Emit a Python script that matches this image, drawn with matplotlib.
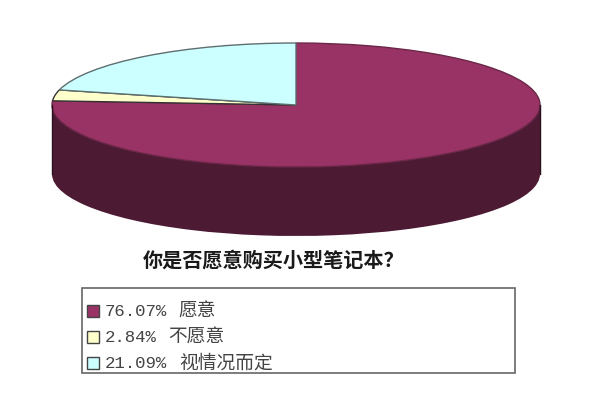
import matplotlib
matplotlib.use("Agg")
import matplotlib.pyplot as plt
from matplotlib.patches import Rectangle

plt.rcParams['font.family'] = ['Noto Sans CJK SC', 'DejaVu Sans']

# Chart data
percents = [76.07, 2.84, 21.09]
percent_labels = ['76.07%', '2.84%', '21.09%']
names = ['愿意', '不愿意', '视情况而定']
colors = ['#993366', '#ffffcc', '#ccffff']
edge_colors = ['#6b2748', '#333333', '#5f6f70']
side_color = '#4d1a33'
title = '你是否愿意购买小型笔记本？'

# Ellipse geometry in pixels
cx, cy = 296, 105
rx, ry = 244, 62
depth = 69 / ry

fig = plt.figure(figsize=(6, 4), dpi=100, facecolor='white')

# Pie axes fill the figure, one data unit is rx wide and ry high
ax = fig.add_axes([0, 0, 1, 1])
ax.pie(percents, colors=[side_color] * 3, startangle=90, counterclock=False,
       center=(0, -depth), wedgeprops={'edgecolor': 'none'})
ax.add_patch(Rectangle((-1, -depth), 2, depth, facecolor=side_color, edgecolor='none'))
ax.plot([-1, -1], [0, -depth], color='#2a0f1c', lw=1)
ax.plot([1, 1], [0, -depth], color='#2a0f1c', lw=1)
top_wedges, _ = ax.pie(percents, colors=colors, startangle=90, counterclock=False,
                       wedgeprops={'linewidth': 1})
# Maroon on top so that the pale slices keep their own edge
for wedge, edge in zip(top_wedges, edge_colors):
    wedge.set_edgecolor(edge)
top_wedges[1].set_zorder(3)
top_wedges[2].set_zorder(3)
ax.set_aspect('auto')
ax.set_xlim(-cx / rx, (600 - cx) / rx)
ax.set_ylim((cy - 400) / ry, cy / ry)
ax.axis('off')

# Overlay in pixel coordinates for title and legend
ov = fig.add_axes([0, 0, 1, 1])
ov.set_xlim(0, 600)
ov.set_ylim(400, 0)
ov.axis('off')
ov.patch.set_alpha(0)

ov.text(143, 260, title, fontsize=14.5, fontweight='bold', color='#1a1a1a',
        va='center', ha='left')

ov.add_patch(Rectangle((82, 288), 433, 85, facecolor='white', edgecolor='#666666', lw=1.2))

row_y = [311, 337, 363]
for i in range(3):
    ov.add_patch(Rectangle((87, row_y[i] - 6), 12, 12, facecolor=colors[i],
                           edgecolor='#444444', lw=1))
    ov.text(105, row_y[i], percent_labels[i], family='Liberation Mono', fontsize=12.5,
            color='#444444', va='center', ha='left')
    name_x = 105 + 10.4 * (len(percent_labels[i]) + 1.1)
    ov.text(name_x, row_y[i], names[i], fontsize=13.5, color='#444444',
            va='center', ha='left')

fig.savefig('out.png', dpi=100)
